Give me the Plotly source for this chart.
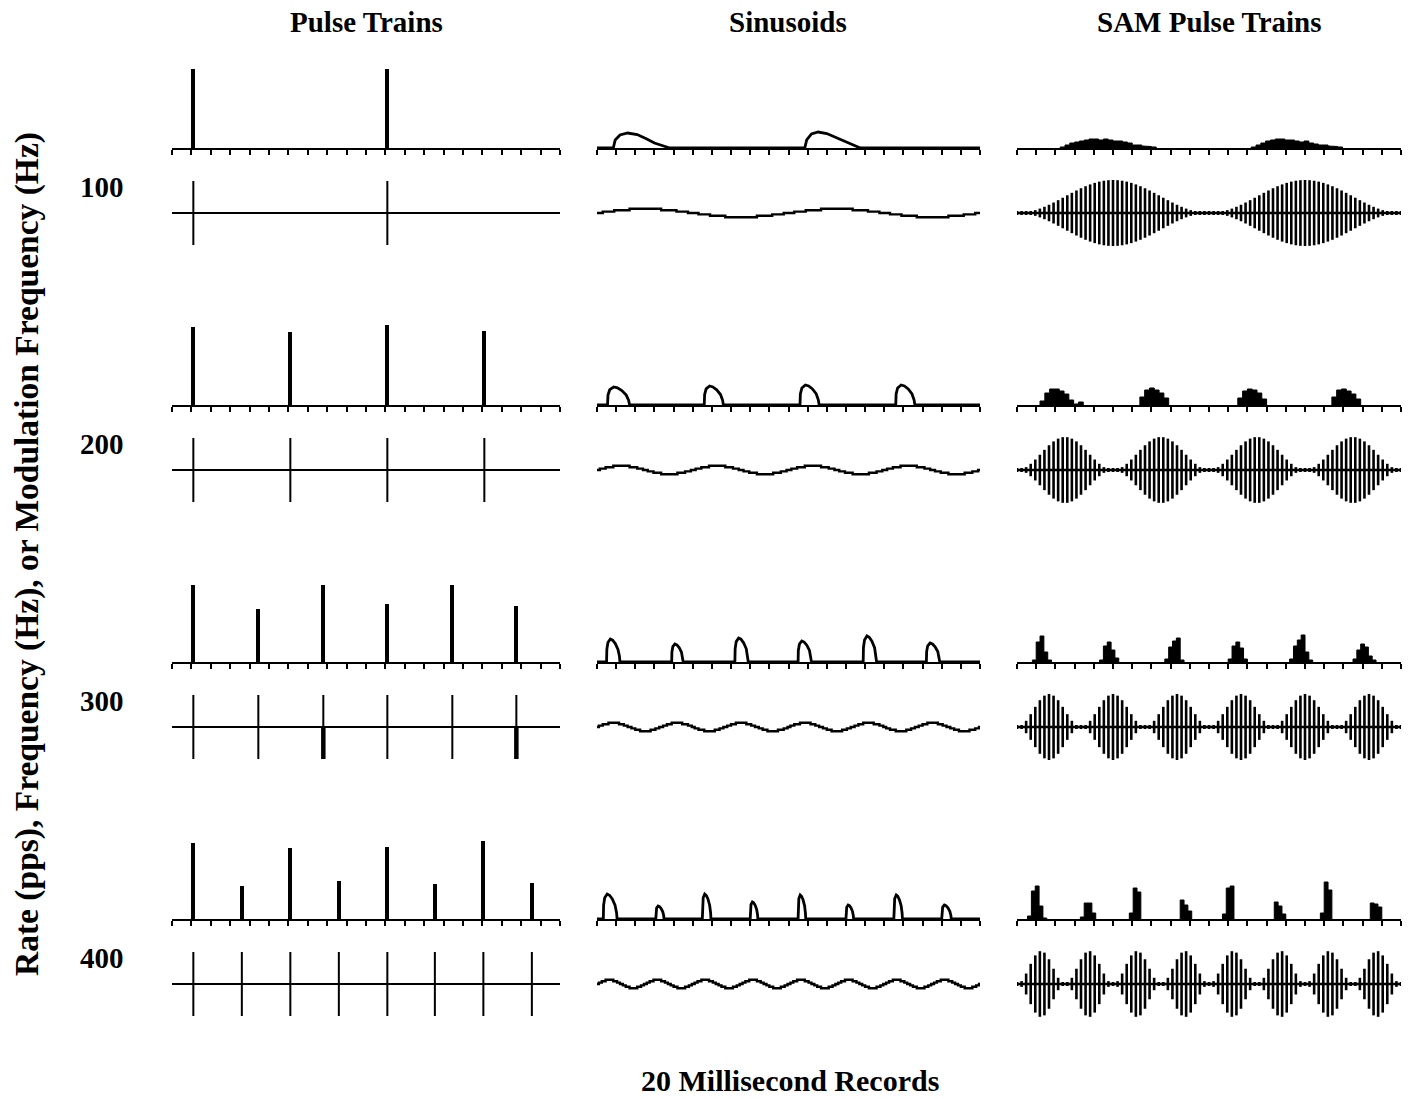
import numpy as np
import plotly.graph_objects as go

W, H = 1413, 1099

# ---------------- data ----------------
RATES = [100, 200, 300, 400]                 # pps / Hz / modulation Hz
ROW_LABELS = ["100", "200", "300", "400"]
COL_TITLES = ["Pulse Trains", "Sinusoids", "SAM Pulse Trains"]
Y_TITLE = "Rate (pps), Frequency (Hz), or Modulation Frequency (Hz)"
X_TITLE = "20 Millisecond Records"
RECORD_MS = 20
CARRIER_PPS = 4200

# Pulse-train stimulus / response pulse times (ms)
PT_TIMES_100 = [1.1, 11.1]
PT_TIMES_200 = [1.1, 6.1, 11.1, 16.1]
PT_TIMES_300 = [1.1, 4.45, 7.8, 11.1, 14.45, 17.75]
PT_TIMES_400 = [1.1, 3.6, 6.1, 8.6, 11.1, 13.55, 16.05, 18.55]
# Pulse-train response heights (relative spike counts)
PT_RESP_100 = [79, 79]
PT_RESP_200 = [78, 73, 80, 74]
PT_RESP_300 = [77, 53, 77, 58, 77, 56]
PT_RESP_400 = [76, 33, 71, 38, 72, 35, 78, 36]
PT_THICK_NEG_300 = [7.8, 17.75]              # pulses drawn with heavier negative phase
PT_STIM_AMP = 32

# Sinusoid stimulus amplitude (relative)
SINE_AMP = [4, 4, 4, 4]

# Sinusoid responses: 100 Hz as outline points (t ms, h)
SIN_RESP_100 = [
    [(0.85, 0), (0.95, 8), (1.2, 13), (1.6, 15), (2.1, 13.5), (2.6, 9), (3.0, 5), (3.4, 2.5), (3.8, 0)],
    [(10.85, 0), (10.95, 8), (11.2, 14), (11.55, 16), (12.0, 14.5), (12.6, 9.5), (13.1, 6), (13.4, 3), (13.75, 0)],
]
# Other sinusoid responses: (onset ms, offset ms, peak height)
SIN_RESP_200 = [(0.55, 1.7, 18), (5.6, 6.6, 19), (10.6, 11.6, 20), (15.6, 16.6, 20)]
SIN_RESP_300 = [(0.5, 1.2, 23), (3.9, 4.5, 18), (7.2, 7.9, 24), (10.5, 11.2, 21), (13.9, 14.6, 26), (17.2, 17.9, 19)]
SIN_RESP_400 = [(0.33, 1.05, 25), (3.07, 3.5, 13), (5.5, 5.95, 25), (8.0, 8.4, 17),
                (10.5, 10.9, 24), (13.0, 13.4, 14), (15.5, 15.95, 24), (18.0, 18.5, 14)]
SIN_PROFILE_X = [0, 0.02, 0.1, 0.28, 0.45, 0.65, 0.85, 0.96, 1]
SIN_PROFILE_H = [0, 0.55, 0.85, 1.0, 0.95, 0.8, 0.55, 0.25, 0]

# SAM responses: (onset ms, bin width ms, bin heights)
SAM_RESP_100 = [
    (2.25, 0.25, [1, 3, 5, 6, 7, 8, 9, 9, 8, 9, 8, 7, 7, 6, 5, 3, 3, 2, 1.5, 1]),
    (12.2, 0.25, [1, 3, 5, 7, 8, 9, 9, 8, 8, 7, 6, 7, 5, 4, 3, 3, 2, 1.5, 1]),
]
SAM_RESP_200 = [
    (1.2, 0.25, [4, 12, 16, 16, 14, 11, 5, 1, 3]),
    (6.4, 0.25, [8, 15, 17, 15, 12, 7]),
    (11.5, 0.25, [7, 14, 16, 15, 12, 6]),
    (16.4, 0.25, [8, 15, 16, 14, 11, 6]),
]
SAM_RESP_300 = [
    (0.8, 0.2, [2, 20, 26, 10, 2]),
    (4.3, 0.2, [2, 16, 20, 12, 4]),
    (7.7, 0.2, [3, 15, 21, 24, 2]),
    (11.0, 0.2, [3, 16, 20, 14, 3]),
    (14.2, 0.2, [3, 16, 22, 27, 10, 2]),
    (17.5, 0.2, [3, 12, 18, 15, 6, 2]),
]
SAM_RESP_400 = [
    (0.55, 0.2, [3, 28, 33, 13, 1]),
    (3.3, 0.2, [2, 16, 16, 6]),
    (5.85, 0.2, [6, 31, 27]),
    (8.5, 0.2, [19, 14, 8]),
    (10.7, 0.2, [5, 31, 33]),
    (13.4, 0.2, [17, 13, 5]),
    (15.8, 0.2, [6, 37, 29]),
    (18.4, 0.2, [16, 15, 12]),
]
SAM_AMP = 33

PT_TIMES = [PT_TIMES_100, PT_TIMES_200, PT_TIMES_300, PT_TIMES_400]
PT_RESP = [PT_RESP_100, PT_RESP_200, PT_RESP_300, PT_RESP_400]
SIN_RESP = [None, SIN_RESP_200, SIN_RESP_300, SIN_RESP_400]
SAM_RESP = [SAM_RESP_100, SAM_RESP_200, SAM_RESP_300, SAM_RESP_400]

# ---------------- layout geometry (pixels) ----------------
COL_PX = [(172, 560), (597, 980), (1017, 1401)]
BASE_PX = [148, 405, 662, 919]
HIST_H = 90
STIM_OFF = 65
STIM_HALF = 40

fig = go.Figure()
layout = dict(width=W, height=H, margin=dict(l=0, r=0, t=0, b=0),
              paper_bgcolor="white", plot_bgcolor="rgba(0,0,0,0)", showlegend=False)

axis_id = [0]


def new_axes(xpx, ytop, ybot, yrange, hist):
    axis_id[0] += 1
    i = axis_id[0]
    xa = dict(domain=[xpx[0] / W, xpx[1] / W], range=[0, RECORD_MS], anchor=f"y{i}",
              showgrid=False, zeroline=False, showticklabels=False, fixedrange=True)
    if hist:
        xa.update(showline=True, linewidth=2, linecolor="black", ticks="outside",
                  ticklen=5, tickwidth=2, tickcolor="black", tick0=0, dtick=1)
    else:
        xa.update(visible=False)
    ya = dict(domain=[1 - ybot / H, 1 - ytop / H], range=yrange, anchor=f"x{i}",
              visible=False, fixedrange=True)
    layout["xaxis" if i == 1 else f"xaxis{i}"] = xa
    layout["yaxis" if i == 1 else f"yaxis{i}"] = ya
    return ("x" if i == 1 else f"x{i}"), ("y" if i == 1 else f"y{i}")


LINE = dict(color="black", width=2)

for r, rate in enumerate(RATES):
    yb = BASE_PX[r]
    yc = yb + STIM_OFF
    for c in range(3):
        xpx = COL_PX[c]
        hx, hy = new_axes(xpx, yb - HIST_H, yb, [0, HIST_H], True)
        sx, sy = new_axes(xpx, yc - STIM_HALF, yc + STIM_HALF, [-STIM_HALF, STIM_HALF], False)

        if c == 0:
            # response histogram bars
            fig.add_trace(go.Bar(x=PT_TIMES[r], y=PT_RESP[r], width=0.2,
                                 marker=dict(color="black", line=dict(width=0)),
                                 xaxis=hx, yaxis=hy))
            # stimulus pulses
            xs, ys = [0], [0]
            for t in PT_TIMES[r]:
                xs += [t, t, t, t]
                ys += [0, PT_STIM_AMP, -PT_STIM_AMP, 0]
            xs.append(RECORD_MS)
            ys.append(0)
            fig.add_trace(go.Scatter(x=xs, y=ys, mode="lines", line=LINE, xaxis=sx, yaxis=sy))
            if rate == 300:
                tx, ty = [], []
                for t in PT_THICK_NEG_300:
                    tx += [t, t, None]
                    ty += [0, -PT_STIM_AMP, None]
                fig.add_trace(go.Scatter(x=tx, y=ty, mode="lines",
                                         line=dict(color="black", width=4.5), xaxis=sx, yaxis=sy))
        elif c == 1:
            xs, ys = [0], [0]
            if r == 0:
                for bump in SIN_RESP_100:
                    for t, h in bump:
                        xs.append(t)
                        ys.append(h)
            else:
                for on, off, hgt in SIN_RESP[r]:
                    for px_, ph in zip(SIN_PROFILE_X, SIN_PROFILE_H):
                        xs.append(on + px_ * (off - on))
                        ys.append(ph * hgt)
            xs.append(RECORD_MS)
            ys.append(0)
            fig.add_trace(go.Scatter(x=xs, y=ys, mode="lines",
                                     line=dict(color="black", width=2.8), xaxis=hx, yaxis=hy))
            # sinusoidal stimulus (stepped, as digitised)
            t = np.arange(0, RECORD_MS + 1e-9, 0.05)
            y = SINE_AMP[r] * np.sin(2 * np.pi * rate * t / 1000.0)
            y = np.round(y / 1.4) * 1.4
            fig.add_trace(go.Scatter(x=t, y=y, mode="lines", line=dict(color="black", width=2.4, shape="hv"),
                                     xaxis=sx, yaxis=sy))
        else:
            for on, bw, hs in SAM_RESP[r]:
                xs, ys = [on], [0]
                for k, hh in enumerate(hs):
                    xs += [on + k * bw, on + (k + 1) * bw]
                    ys += [hh, hh]
                xs.append(on + len(hs) * bw)
                ys.append(0)
                fig.add_trace(go.Scatter(x=xs, y=ys, mode="lines", fill="toself", fillcolor="black",
                                         line=dict(color="black", width=1), xaxis=hx, yaxis=hy))
            # SAM stimulus: carrier pulses under a raised-cosine envelope
            tp = np.arange(0, RECORD_MS + 1e-9, 1000.0 / CARRIER_PPS)
            env = SAM_AMP * 0.5 * (1 - np.cos(2 * np.pi * rate * tp / 1000.0))
            xs, ys = [], []
            for t, e in zip(tp, env):
                e = max(e, 2.0)
                xs += [t, t, None]
                ys += [-e, e, None]
            fig.add_trace(go.Scatter(x=xs, y=ys, mode="lines", line=dict(color="black", width=2.6),
                                     xaxis=sx, yaxis=sy))
            fig.add_trace(go.Scatter(x=[0, RECORD_MS], y=[0, 0], mode="lines",
                                     line=dict(color="black", width=2.5), xaxis=sx, yaxis=sy))

FONT = "Liberation Serif, Times New Roman, serif"
ann = []
for txt, xc in zip(COL_TITLES, [366, 788, 1209]):
    ann.append(dict(text=f"<b>{txt}</b>", x=xc / W, y=1 - 22 / H, xref="paper", yref="paper",
                    showarrow=False, xanchor="center", yanchor="middle",
                    font=dict(family=FONT, size=29, color="black")))
for lab, yb in zip(ROW_LABELS, BASE_PX):
    ann.append(dict(text=f"<b>{lab}</b>", x=102 / W, y=1 - (yb + 39) / H, xref="paper", yref="paper",
                    showarrow=False, xanchor="center", yanchor="middle",
                    font=dict(family=FONT, size=29, color="black")))
ann.append(dict(text=f"<b>{Y_TITLE}</b>", x=27 / W, y=1 - 554 / H, xref="paper", yref="paper",
                showarrow=False, xanchor="center", yanchor="middle", textangle=-90,
                font=dict(family=FONT, size=33.5, color="black")))
ann.append(dict(text=f"<b>{X_TITLE}</b>", x=790 / W, y=1 - 1080 / H, xref="paper", yref="paper",
                showarrow=False, xanchor="center", yanchor="middle",
                font=dict(family=FONT, size=30, color="black")))
layout["annotations"] = ann
layout["bargap"] = 0

fig.update_layout(**layout)
fig.write_html("out.html")
